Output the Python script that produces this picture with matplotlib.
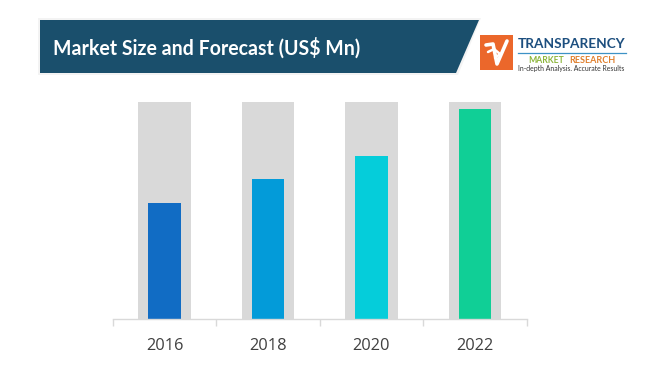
import matplotlib
matplotlib.use("Agg")
import matplotlib.pyplot as plt
from matplotlib.patches import Polygon, Rectangle
from matplotlib.lines import Line2D

# ---- data ----
years = ["2016", "2018", "2020", "2022"]
values = [53.5, 64.4, 75.0, 96.5]
background = [100, 100, 100, 100]
bar_colors = ["#116cc4", "#039bd9", "#05cdda", "#10cf96"]
title = "Market Size and Forecast (US$ Mn)"

W, H = 650, 382
fig = plt.figure(figsize=(W / 100, H / 100), dpi=100)
fig.patch.set_facecolor("white")

def fx(px):
    return px / W

def fy(py):
    return 1 - py / H

# ---- chart axes ----
ax = fig.add_axes([fx(112.7), fy(318.7), (526.7 - 112.7) / W, (318.7 - 101.7) / H])
x = list(range(len(years)))
ax.bar(x, background, width=0.505, color="#d9d9d9", zorder=1)
ax.bar(x, values, width=0.315, color=bar_colors, zorder=2)
ax.set_xlim(-0.5, len(years) - 0.5)
ax.set_ylim(0, 100)
for s in ["top", "right", "left"]:
    ax.spines[s].set_visible(False)
ax.spines["bottom"].set_color("#d9d9d9")
ax.spines["bottom"].set_linewidth(1.0)
ax.set_yticks([])
ax.set_xticks(x)
ax.set_xticklabels(years, fontfamily="Open Sans", fontsize=11.8, color="#404040")
ax.tick_params(axis="x", which="major", length=0, pad=14)
ax.set_xticks([i - 0.5 for i in range(len(years) + 1)], minor=True)
ax.tick_params(axis="x", which="minor", length=5, width=1, color="#d9d9d9")

# ---- header banner ----
shadow = Polygon([(fx(38), fy(18)), (fx(481), fy(18)), (fx(458), fy(75)), (fx(38), fy(75))],
                 closed=True, transform=fig.transFigure, facecolor="#f3f3f3",
                 edgecolor="none", zorder=0)
fig.patches.append(shadow)
banner = Polygon([(fx(40), fy(20)), (fx(479), fy(20)), (fx(456), fy(73)), (fx(40), fy(73))],
                 closed=True, transform=fig.transFigure, facecolor="#1a4f6c",
                 edgecolor="none", zorder=1)
fig.patches.append(banner)

renderer = fig.canvas.get_renderer()

def fit_text(xp, yp, s, target_w, size0, **kw):
    t = fig.text(fx(xp), fy(yp), s, fontsize=size0, va="baseline", ha="left", **kw)
    bb = t.get_window_extent(renderer=renderer)
    t.set_fontsize(size0 * target_w / bb.width)
    return t

fit_text(53, 54.5, title, 309, 14, color="white", fontweight="bold", fontfamily="Lato")

# ---- logo ----
logo = Rectangle((fx(480), fy(70)), fx(33), 35 / H, transform=fig.transFigure,
                 facecolor="#eb672b", edgecolor="none")
fig.patches.append(logo)
# stylised check mark in the logo
fig.lines.append(Line2D([fx(486), fx(493), fx(497), fx(507)],
                        [fy(45), fy(44), fy(64), fy(41)],
                        transform=fig.transFigure, color="white", linewidth=2.6,
                        solid_capstyle="round", solid_joinstyle="round"))
fig.lines.append(Line2D([fx(488), fx(494), fx(500), fx(495)],
                        [fy(52), fy(49), fy(54), fy(58)],
                        transform=fig.transFigure, color="white", linewidth=1.8,
                        solid_capstyle="round"))

fit_text(518, 48.5, "TRANSPARENCY", 107, 11, color="#1d4f7f", fontweight="bold",
         fontfamily="Lato")
fig.lines.append(Line2D([fx(518), fx(626)], [fy(53), fy(53)], transform=fig.transFigure,
                        color="#3d92c6", linewidth=0.9))
fit_text(528, 63, "MARKET", 36, 6, color="#8db63c", fontfamily="Lato", fontweight="bold")
fit_text(569, 63, "RESEARCH", 46, 6, color="#e0802e", fontfamily="Lato", fontweight="bold")
fit_text(518, 71, "In-depth Analysis. Accurate Results", 107, 5, color="#333333",
         fontfamily="Lato")

fig.savefig("out.png", dpi=100, facecolor="white")
